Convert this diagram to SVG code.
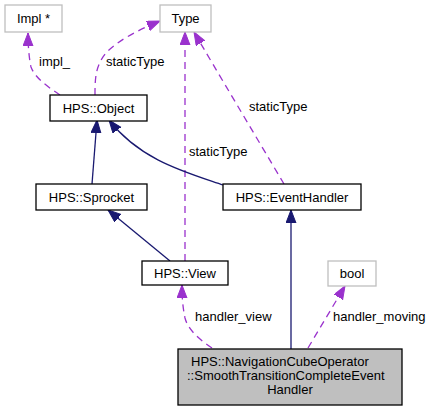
<svg xmlns="http://www.w3.org/2000/svg" width="429" height="411" viewBox="0 0 429 411">
<style>
.n rect{fill:#fff;stroke:#000;stroke-width:1.3}
.g rect{fill:#fff;stroke:#bfbfbf;stroke-width:1.3}
.m rect{fill:#bfbfbf;stroke:#000;stroke-width:1.3}
text{font-family:"Liberation Sans",Arial,sans-serif;font-size:13px;fill:#000}
.c{text-anchor:middle}
.inh{fill:none;stroke:#191970;stroke-width:1.3;marker-end:url(#an)}
.use{fill:none;stroke:#9a32cd;stroke-width:1.3;stroke-dasharray:7,5;marker-end:url(#ap)}
</style>
<defs>
<marker id="an" markerUnits="userSpaceOnUse" markerWidth="14" markerHeight="11" refX="13" refY="5" orient="auto"><path d="M0,0 L13,5 L0,10 Z" fill="#191970" stroke="#191970"/></marker>
<marker id="ap" markerUnits="userSpaceOnUse" markerWidth="14" markerHeight="11" refX="13" refY="5" orient="auto"><path d="M0,0 L13,5 L0,10 Z" fill="#9a32cd" stroke="#9a32cd"/></marker>
</defs>
<g id="connectors">
<path class="use" d="M60,95 C48,87 35,78 31,67 C29,58 28,45 28,33"/>
<text x="39" y="66">impl_</text>
<path class="use" d="M95,95 C95,80 95,66 106,53 C117,41 138,30 160,21"/>
<text x="106" y="66">staticType</text>
<path class="use" d="M185,261 L185,32"/>
<text x="189" y="156">staticType</text>
<path class="use" d="M284,184 C255,135 215,68 194,32"/>
<text x="249" y="111">staticType</text>
<path class="inh" d="M92,184 L97,120"/>
<path class="inh" d="M223,185 C185,172 140,160 109,120"/>
<path class="inh" d="M170,261 L108,210"/>
<path class="inh" d="M291,349 L291,210"/>
<path class="use" d="M212,348 C200,340 188,330 185,318 C183,308 182,300 182,285"/>
<text x="195" y="321">handler_view</text>
<path class="use" d="M308,348 L345,286"/>
<text x="333" y="321">handler_moving</text>
</g>
<g id="impl" class="g"><rect x="5" y="5" width="57" height="27"/><text class="c" x="33.5" y="23">Impl *</text></g>
<g id="type" class="g"><rect x="160" y="5" width="51" height="27"/><text class="c" x="185.5" y="23">Type</text></g>
<g id="object" class="n"><rect x="50" y="95" width="97" height="26"/><text class="c" x="98.5" y="112.5">HPS::Object</text></g>
<g id="sprocket" class="n"><rect x="36" y="184" width="111" height="26"/><text class="c" x="91.5" y="201.5">HPS::Sprocket</text></g>
<g id="eventhandler" class="n"><rect x="223" y="184" width="138" height="26"/><text class="c" x="292" y="201.5">HPS::EventHandler</text></g>
<g id="view" class="n"><rect x="142" y="261" width="86" height="24"/><text class="c" x="185" y="277.5">HPS::View</text></g>
<g id="bool" class="g"><rect x="328" y="261" width="48" height="25"/><text class="c" x="352" y="278">bool</text></g>
<g id="main" class="m"><rect x="178" y="349" width="224" height="56"/>
<text x="191" y="366">HPS::NavigationCubeOperator</text>
<text x="187" y="380">::SmoothTransitionCompleteEvent</text>
<text class="c" x="290" y="394">Handler</text></g>
</svg>
